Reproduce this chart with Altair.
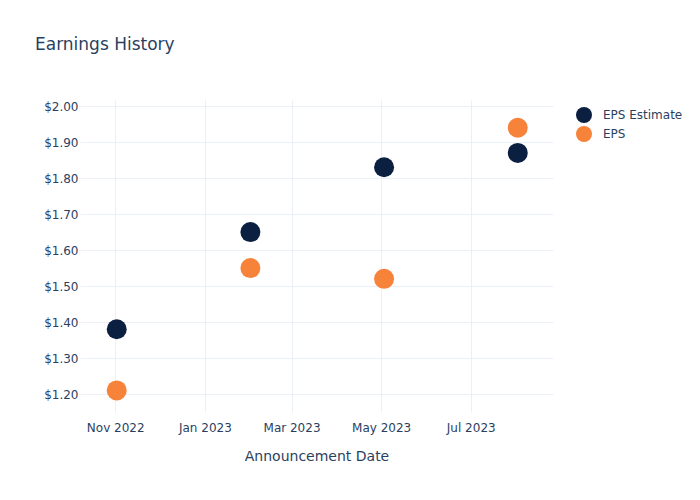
import altair as alt
import pandas as pd

dates = ["2022-11-02", "2023-02-01", "2023-05-03", "2023-08-02"]
eps_estimate = [1.38, 1.65, 1.83, 1.87]
eps_actual = [1.21, 1.55, 1.52, 1.94]
series_names = ["EPS Estimate", "EPS"]
series_colors = ["#0b1f41", "#f7823a"]

rows = []
for d, e, a in zip(dates, eps_estimate, eps_actual):
    rows.append({"date": d, "value": e, "series": series_names[0]})
    rows.append({"date": d, "value": a, "series": series_names[1]})
df = pd.DataFrame(rows)

FONT = "DejaVu Sans"
TXT = "#2a3f5f"
GRID = "#EBF0F8"

tick_values = [
    alt.DateTime(year=2022, month=11, date=1, utc=True),
    alt.DateTime(year=2023, month=1, date=1, utc=True),
    alt.DateTime(year=2023, month=3, date=1, utc=True),
    alt.DateTime(year=2023, month=5, date=1, utc=True),
    alt.DateTime(year=2023, month=7, date=1, utc=True),
]

chart = alt.Chart(df).mark_circle(size=400, opacity=1).encode(
    x=alt.X(
        "date:T",
        scale=alt.Scale(
            type="utc",
            domain=[
                alt.DateTime(year=2022, month=10, date=8, utc=True),
                alt.DateTime(year=2023, month=8, date=26, utc=True),
            ],
        ),
        axis=alt.Axis(
            title="Announcement Date",
            values=tick_values,
            labelExpr="utcFormat(datum.value, '%b %Y')",
            domain=False,
            ticks=False,
            tickSize=0,
            labelPadding=10,
            labelFontSize=12,
            labelColor=TXT,
            labelFont=FONT,
            titleFont=FONT,
            titleFontSize=14,
            titleFontWeight="normal",
            titleColor=TXT,
            titlePadding=16,
            grid=True,
            gridColor=GRID,
            labelFlush=False,
        ),
    ),
    y=alt.Y(
        "value:Q",
        scale=alt.Scale(domain=[1.15, 2.017], nice=False, zero=False),
        axis=alt.Axis(
            title=None,
            values=[1.2, 1.3, 1.4, 1.5, 1.6, 1.7, 1.8, 1.9, 2.0],
            format="$.2f",
            domain=False,
            ticks=False,
            tickSize=0,
            labelPadding=2,
            labelFontSize=12,
            labelColor=TXT,
            labelFont=FONT,
            grid=True,
            gridColor=GRID,
        ),
    ),
    color=alt.Color(
        "series:N",
        scale=alt.Scale(domain=series_names, range=series_colors),
        sort=series_names,
        legend=alt.Legend(
            title=None,
            orient="none",
            legendX=495,
            legendY=6,
            symbolType="circle",
            symbolSize=256,
            symbolOpacity=1,
            labelFont=FONT,
            labelFontSize=12,
            labelColor=TXT,
            labelOffset=10,
            rowPadding=2,
            padding=0,
        ),
    ),
).properties(
    width=473,
    height=312,
    background="white",
    title=alt.TitleParams(
        "Earnings History",
        anchor="start",
        frame="group",
        dx=-45,
        offset=33,
        baseline="alphabetic",
        font=FONT,
        fontSize=17,
        fontWeight="normal",
        color=TXT,
    ),
    autosize=alt.AutoSizeParams(type="none"),
    padding={"left": 80, "top": 100, "right": 147, "bottom": 88},
).configure_view(stroke="transparent", strokeWidth=0).configure_axis(
    domain=False, ticks=False
)

chart.save("out.html", embed_options={"renderer": "svg", "actions": False})
